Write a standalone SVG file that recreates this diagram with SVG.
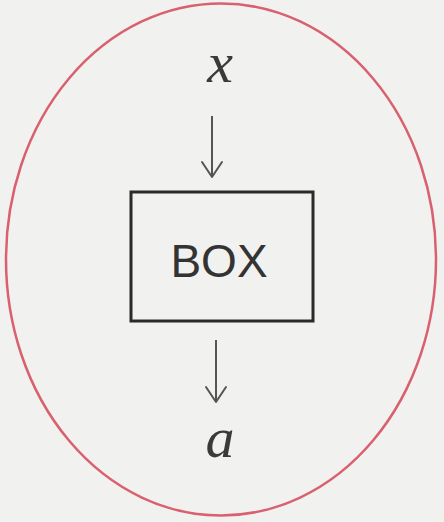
<svg xmlns="http://www.w3.org/2000/svg" width="444" height="522" viewBox="0 0 444 522">
<style>
.lbl{font-family:"Liberation Serif","Times New Roman",serif;font-style:italic;font-size:58px;fill:#3a3a3a;text-anchor:middle}
.box{fill:none;stroke:#2a2a2a;stroke-width:3}
.boxt{font-family:"Liberation Sans",Arial,sans-serif;font-size:46px;fill:#333;text-anchor:middle}
.conn{stroke:#555;stroke-width:2;fill:none}
.head{stroke:#555;stroke-width:2;fill:none;stroke-linecap:round;stroke-linejoin:round}
</style>
<rect width="444" height="522" fill="#f1f1ef"/>
<ellipse cx="221" cy="259.5" rx="215" ry="256" fill="none" stroke="#d9606e" stroke-width="2.5"/>
<g id="x"><text class="lbl" x="220" y="82">x</text></g>
<g id="boxnode"><rect class="box" x="131" y="192" width="182" height="129"/><text class="boxt" x="219" y="277">BOX</text></g>
<g id="a"><text class="lbl" x="220" y="457">a</text></g>
<g id="connectors">
<line class="conn" x1="212" y1="116" x2="212" y2="177"/>
<polyline class="head" points="202,162 212,177 222,162"/>
<line class="conn" x1="216" y1="340" x2="216" y2="402"/>
<polyline class="head" points="206,387 216,402 226,387"/>
</g>
</svg>
